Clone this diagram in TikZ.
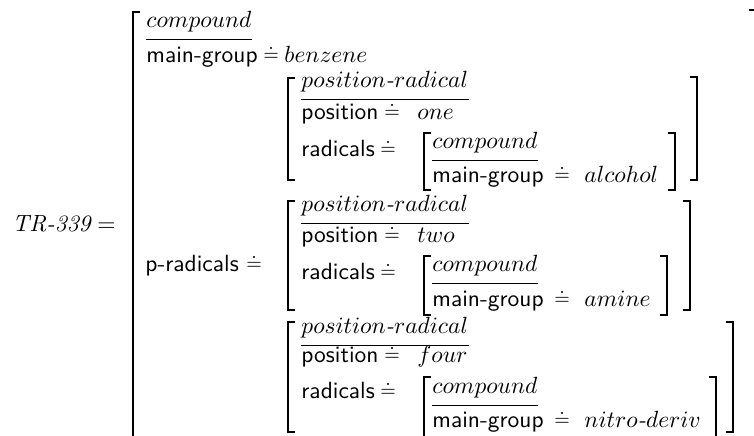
\documentclass[tikz,border=0pt]{standalone}
\usetikzlibrary{calc}
\begin{document}
\begin{tikzpicture}[
  x=0.4263pt, y=-0.4263pt,
  attr/.style={anchor=base west, inner sep=0pt, font=\sffamily},
  val/.style={anchor=base west, inner sep=0pt},
  deq/.style={anchor=base west, inner sep=0pt, font=\footnotesize},
  brk/.style={line width=0.55pt},
  typerule/.style={line width=0.4pt},
]
\useasboundingbox (0,0) rectangle (754,436);

% left/right square brackets: x, top, bottom
\def\lbrk#1#2#3{\draw[brk] (#1+7,#2) -- (#1,#2) -- (#1,#3) -- (#1+7,#3);}
\def\rbrk#1#2#3{\draw[brk] (#1-7,#2) -- (#1,#2) -- (#1,#3) -- (#1-7,#3);}
% rule under a type name
\def\trule#1{\draw[typerule] ($(#1.base west)+(0,11)$) -- ($(#1.base east)+(0,11)$);}
% the small raised "approaches" sign used between a feature and its value
\def\feq{\raisebox{0.9pt}{$\doteq$}}

% name of the structure
\node[val] (name) at (12,232) {\textit{TR-339}};
\node[val] (eq) at (97,232) {$=$};

% outer matrix
\lbrk{133}{12}{460}
\rbrk{756}{10}{460}
\node[val] (t0) at (146,28) {$compound$};
\trule{t0}
\node[attr] (a0) at (146,63) {main-group};
\node[deq] (a0d) at (263,63) {\feq};
\node[val] (a0v) at (284,63) {$benzene$};
\node[attr] (a1) at (145,272) {p-radicals};
\node[deq] (a1d) at (246,272) {\feq};

% first radical
\lbrk{288}{78}{180}
\rbrk{697}{77}{180}
\node[val] (t1) at (301,88) {$position\textit{-}radical$};
\trule{t1}
\node[attr] (p1) at (301,120) {position};
\node[deq] (p1d) at (384,120) {\feq};
\node[val] (p1v) at (417,120) {$one$};
\node[attr] (r1) at (301,157) {radicals};
\node[deq] (r1d) at (380,157) {\feq};
\lbrk{424}{133}{190}
\rbrk{675}{133}{190}
\node[val] (c1) at (432,149) {$compound$};
\trule{c1}
\node[attr] (m1) at (432,183) {main-group};
\node[deq] (m1d) at (554,183) {\feq};
\node[val] (m1v) at (584,183) {$alcohol$};

% second radical
\lbrk{288}{201}{310}
\rbrk{690}{201}{310}
\node[val] (t2) at (301,212) {$position\textit{-}radical$};
\trule{t2}
\node[attr] (p2) at (301,243) {position};
\node[deq] (p2d) at (384,243) {\feq};
\node[val] (p2v) at (417,243) {$two$};
\node[attr] (r2) at (301,280) {radicals};
\node[deq] (r2d) at (380,280) {\feq};
\lbrk{424}{256}{315}
\rbrk{667}{256}{315}
\node[val] (c2) at (432,272) {$compound$};
\trule{c2}
\node[attr] (m2) at (432,307) {main-group};
\node[deq] (m2d) at (554,307) {\feq};
\node[val] (m2v) at (584,307) {$amine$};

% third radical
\lbrk{288}{322}{432}
\rbrk{733}{322}{432}
\node[val] (t3) at (301,334) {$position\textit{-}radical$};
\trule{t3}
\node[attr] (p3) at (301,363) {position};
\node[deq] (p3d) at (384,363) {\feq};
\node[val] (p3v) at (417,363) {$four$};
\node[attr] (r3) at (301,399) {radicals};
\node[deq] (r3d) at (380,399) {\feq};
\lbrk{424}{377}{438}
\rbrk{716}{377}{438}
\node[val] (c3) at (432,394) {$compound$};
\trule{c3}
\node[attr] (m3) at (432,428) {main-group};
\node[deq] (m3d) at (554,428) {\feq};
\node[val] (m3v) at (584,428) {$nitro\textit{-}deriv$};
\end{tikzpicture}
\end{document}
